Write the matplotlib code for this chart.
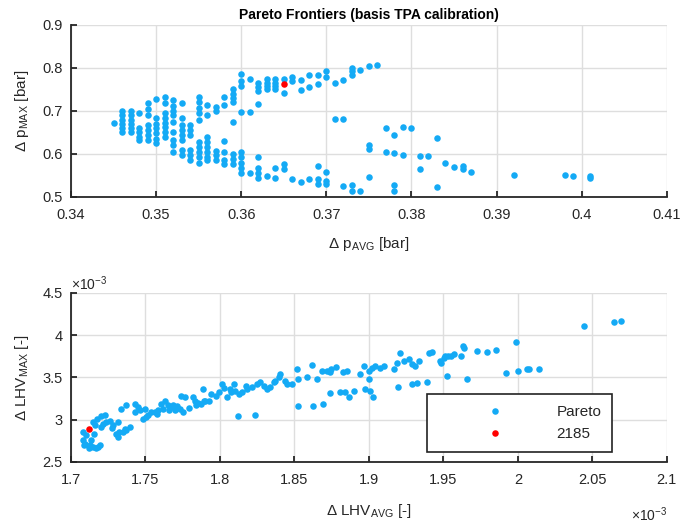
import numpy as np
import matplotlib
matplotlib.use('Agg')
import matplotlib.pyplot as plt
from matplotlib.ticker import FuncFormatter

plt.rcParams['font.family'] = ['Liberation Sans', 'DejaVu Sans']
plt.rcParams['mathtext.default'] = 'regular'

# top plot: pressure pareto front, one x per column of points
p_avg_cols = [0.345, 0.346, 0.347, 0.348, 0.349, 0.350, 0.351, 0.352, 0.353, 0.354,
              0.355, 0.356, 0.357, 0.358, 0.359, 0.360, 0.361, 0.362, 0.363, 0.364,
              0.365, 0.366, 0.367, 0.368, 0.369, 0.370, 0.371, 0.372, 0.373, 0.374,
              0.375, 0.376, 0.377, 0.378, 0.379, 0.380, 0.381, 0.382, 0.383, 0.384,
              0.385, 0.386, 0.387, 0.392, 0.398, 0.399, 0.401]
p_max_cols = [
    [0.673],
    [0.70, 0.69, 0.68, 0.67, 0.66, 0.65],
    [0.70, 0.69, 0.68, 0.67, 0.66, 0.65],
    [0.695, 0.66, 0.65, 0.64, 0.633],
    [0.718, 0.705, 0.691, 0.667, 0.655, 0.645, 0.633],
    [0.727, 0.683, 0.67, 0.66, 0.648, 0.636, 0.625],
    [0.733, 0.718, 0.695, 0.684, 0.673, 0.662, 0.651, 0.640],
    [0.726, 0.712, 0.70, 0.691, 0.675, 0.652, 0.633, 0.62, 0.605],
    [0.718, 0.683, 0.667, 0.655, 0.644, 0.633, 0.609, 0.598],
    [0.667, 0.656, 0.644, 0.609, 0.598, 0.586],
    [0.733, 0.72, 0.708, 0.695, 0.679, 0.628, 0.616, 0.604, 0.592, 0.58],
    [0.715, 0.69, 0.64, 0.628, 0.616, 0.604, 0.592, 0.585],
    [0.71, 0.70, 0.608, 0.597, 0.585],
    [0.732, 0.715, 0.63, 0.604, 0.585, 0.576],
    [0.75, 0.74, 0.73, 0.72, 0.675, 0.60, 0.588, 0.576],
    [0.787, 0.77, 0.758, 0.697, 0.604, 0.592, 0.58, 0.568, 0.556],
    [0.774, 0.697, 0.556],
    [0.764, 0.755, 0.746, 0.716, 0.592, 0.568, 0.556, 0.545],
    [0.774, 0.766, 0.758, 0.75, 0.549],
    [0.774, 0.766, 0.758, 0.75, 0.568, 0.545],
    [0.774, 0.741, 0.576, 0.564],
    [0.78, 0.769, 0.541],
    [0.771, 0.749, 0.536],
    [0.784, 0.755, 0.541],
    [0.784, 0.762, 0.573, 0.541, 0.53],
    [0.794, 0.78, 0.557, 0.537, 0.53],
    [0.765, 0.682],
    [0.773, 0.681, 0.526],
    [0.80, 0.792, 0.784, 0.529, 0.514],
    [0.796, 0.514],
    [0.804, 0.621, 0.612, 0.547],
    [0.808],
    [0.66, 0.604],
    [0.645, 0.602, 0.529, 0.514],
    [0.663, 0.598],
    [0.66],
    [0.596, 0.566],
    [0.596],
    [0.637, 0.524],
    [0.578],
    [0.569],
    [0.573, 0.565],
    [0.559],
    [0.551],
    [0.551],
    [0.549],
    [0.549, 0.543],
]
p_sel = (0.365, 0.762)

# bottom plot: LHV pareto front (units of 1e-3)
lhv_avg = [1.708, 1.708, 1.7086, 1.7095, 1.710, 1.7118, 1.7136, 1.7147, 1.7147, 1.7154,
           1.7158, 1.7174, 1.718, 1.7192, 1.7199, 1.7203, 1.7225, 1.7237, 1.7259, 1.7282,
           1.7304, 1.7315, 1.7315, 1.7338, 1.7349, 1.7371, 1.7371, 1.7394, 1.7427, 1.7427,
           1.745, 1.7461, 1.7483, 1.7495, 1.7506, 1.754, 1.7562, 1.7584, 1.7607, 1.7618,
           1.763, 1.7652, 1.7674, 1.7696, 1.773, 1.7741, 1.7753, 1.7764, 1.782, 1.7831,
           1.7842, 1.7876, 1.7887, 1.789, 1.7898, 1.7943, 1.8016, 1.8027, 1.8049, 1.8071,
           1.8093, 1.8104, 1.8122, 1.8127, 1.8149, 1.8182, 1.8216, 1.8233, 1.8249, 1.8271,
           1.8293, 1.8316, 1.8338, 1.836, 1.8371, 1.8404, 1.8438, 1.845, 1.8482, 1.8516,
           1.8527, 1.8527, 1.8582, 1.8616, 1.8627, 1.8649, 1.8682, 1.8693, 1.8716, 1.8738,
           1.8742, 1.8749, 1.8782, 1.8809, 1.8827, 1.8842, 1.8856, 1.8865, 1.8903, 1.8943,
           1.8965, 1.8977, 1.8999, 1.8999, 1.901, 1.9021, 1.9028, 1.9044, 1.9077, 1.91,
           1.9167, 1.9189, 1.9193, 1.9211, 1.9234, 1.9267, 1.929, 1.929, 1.9312, 1.9323,
           1.9334, 1.939, 1.9401, 1.9424, 1.948, 1.9484, 1.9507, 1.9513, 1.9522, 1.9529,
           1.9551, 1.9573, 1.9618, 1.9629, 1.964, 1.9662, 1.9729, 1.9791, 1.9851, 1.9918,
           1.9991, 2.0, 2.0062, 2.0073, 2.0144, 2.0447, 2.0647, 2.0691,
           1.7125, 1.7165, 1.7215, 1.7275, 1.7325, 1.7365, 1.7515, 1.7575, 1.7655, 1.7685,
           1.7715, 1.7795, 1.7855, 1.7925, 1.7975, 1.7995, 1.8065, 1.8175, 1.8395]
lhv_max = [2.855, 2.757, 2.698, 2.718, 2.816, 2.667, 2.757, 2.678, 2.973, 2.835,
           2.933, 3.012, 2.678, 2.698, 2.914, 3.043, 3.059, 2.973, 2.98, 2.933,
           2.835, 2.973, 2.796, 3.129, 2.855, 2.875, 3.176, 2.914, 3.188, 3.09,
           3.149, 3.11, 3.012, 3.129, 3.031, 3.09, 3.09, 3.11, 3.188, 3.129,
           3.227, 3.169, 3.149, 3.11, 3.129, 3.286, 3.09, 3.267, 3.267, 3.227,
           3.169, 3.188, 3.365, 3.225, 3.227, 3.306, 3.42, 3.38, 3.265, 3.324,
           3.42, 3.343, 3.041, 3.304, 3.324, 3.363, 3.382, 3.057, 3.422, 3.441,
           3.402, 3.363, 3.382, 3.441, 3.461, 3.547, 3.461, 3.42, 3.42, 3.606,
           3.48, 3.167, 3.5, 3.645, 3.167, 3.48, 3.578, 3.186, 3.578, 3.559,
           3.313, 3.598, 3.629, 3.333, 3.559, 3.325, 3.578, 3.267, 3.344, 3.539,
           3.636, 3.364, 3.578, 3.48, 3.344, 3.617, 3.267, 3.636, 3.617, 3.636,
           3.597, 3.675, 3.391, 3.792, 3.695, 3.714, 3.656, 3.422, 3.636, 3.434,
           3.695, 3.449, 3.792, 3.80, 3.695, 3.67, 3.73, 3.753, 3.52, 3.75,
           3.758, 3.778, 3.75, 3.869, 3.849, 3.484, 3.81, 3.80, 3.82, 3.552,
           3.917, 3.575, 3.6, 3.6, 3.6, 4.115, 4.155, 4.167,
           2.70, 2.66, 2.95, 2.90, 2.86, 2.89, 3.06, 3.07, 3.12, 3.18,
           3.16, 3.14, 3.20, 3.22, 3.28, 3.33, 3.36, 3.40, 3.50]
lhv_sel = (1.7118, 2.886)

blue = '#14AAF5'
red = '#FF0000'
txt = '#262626'

p_avg = []
p_max = []
for x, ys in zip(p_avg_cols, p_max_cols):
    for y in ys:
        p_avg.append(x)
        p_max.append(y)

fig = plt.figure(figsize=(6.96, 5.26), dpi=100)
ax1 = fig.add_axes([0.102, 0.6255, 0.856, 0.327])
ax2 = fig.add_axes([0.102, 0.1217, 0.856, 0.3213])

def style(ax):
    ax.grid(True, color='#dedede', linewidth=1)
    ax.set_axisbelow(True)
    for s in ['top', 'right']:
        ax.spines[s].set_visible(False)
    for s in ['left', 'bottom']:
        ax.spines[s].set_color(txt)
        ax.spines[s].set_linewidth(1.3)
    ax.tick_params(direction='in', length=4, width=1.3, colors=txt, labelsize=10.5)
    ax.tick_params(axis='x', pad=8)
    ax.tick_params(axis='y', pad=6)
    ax.xaxis.set_major_formatter(FuncFormatter(lambda v, p: '%g' % round(v, 4)))
    ax.yaxis.set_major_formatter(FuncFormatter(lambda v, p: '%g' % round(v, 4)))

style(ax1)
ax1.plot(p_avg, p_max, 'o', color=blue, ms=4.7, mec='none')
ax1.plot(*p_sel, 'o', color=red, ms=4.7, mec='none')
ax1.set_xlim(0.34, 0.41)
ax1.set_ylim(0.5, 0.9)
ax1.set_xticks(np.arange(0.34, 0.4101, 0.01))
ax1.set_yticks(np.arange(0.5, 0.901, 0.1))
ax1.set_title('Pareto Frontiers (basis TPA calibration)', fontsize=10, fontweight='bold',
              color='black', pad=4)
ax1.set_xlabel('Δ p$_{AVG}$ [bar]', fontsize=11, color=txt, labelpad=9)
ax1.set_ylabel('Δ p$_{MAX}$ [bar]', fontsize=11, color=txt, labelpad=8)

style(ax2)
ax2.plot(lhv_avg, lhv_max, 'o', color=blue, ms=4.7, mec='none', label='Pareto')
ax2.plot(*lhv_sel, 'o', color=red, ms=4.7, mec='none', label='2185')
ax2.set_xlim(1.7, 2.1)
ax2.set_ylim(2.5, 4.5)
ax2.set_xticks(np.arange(1.7, 2.1001, 0.05))
ax2.set_yticks(np.arange(2.5, 4.501, 0.5))
ax2.set_xlabel('Δ LHV$_{AVG}$ [-]', fontsize=11, color=txt, labelpad=11)
ax2.set_ylabel('Δ LHV$_{MAX}$ [-]', fontsize=11, color=txt, labelpad=8)
ax2.text(0.0, 1.0, r'$\times10^{-3}$', transform=ax2.transAxes, ha='left', va='bottom',
         fontsize=10, color=txt)
ax2.text(1.0, -0.31, r'$\times10^{-3}$', transform=ax2.transAxes, ha='right', va='center',
         fontsize=10, color=txt)

leg = ax2.legend(loc='lower left', bbox_to_anchor=(0.597, 0.059, 0.311, 0.367),
                 mode='expand', borderaxespad=0, fontsize=11, fancybox=False,
                 edgecolor='#222222', framealpha=1, handlelength=7.6, handletextpad=0.2,
                 labelspacing=0.55, borderpad=0.7, numpoints=1)
leg.get_frame().set_linewidth(1.2)
for t in leg.get_texts():
    t.set_color(txt)

fig.savefig('out.png', dpi=100)
